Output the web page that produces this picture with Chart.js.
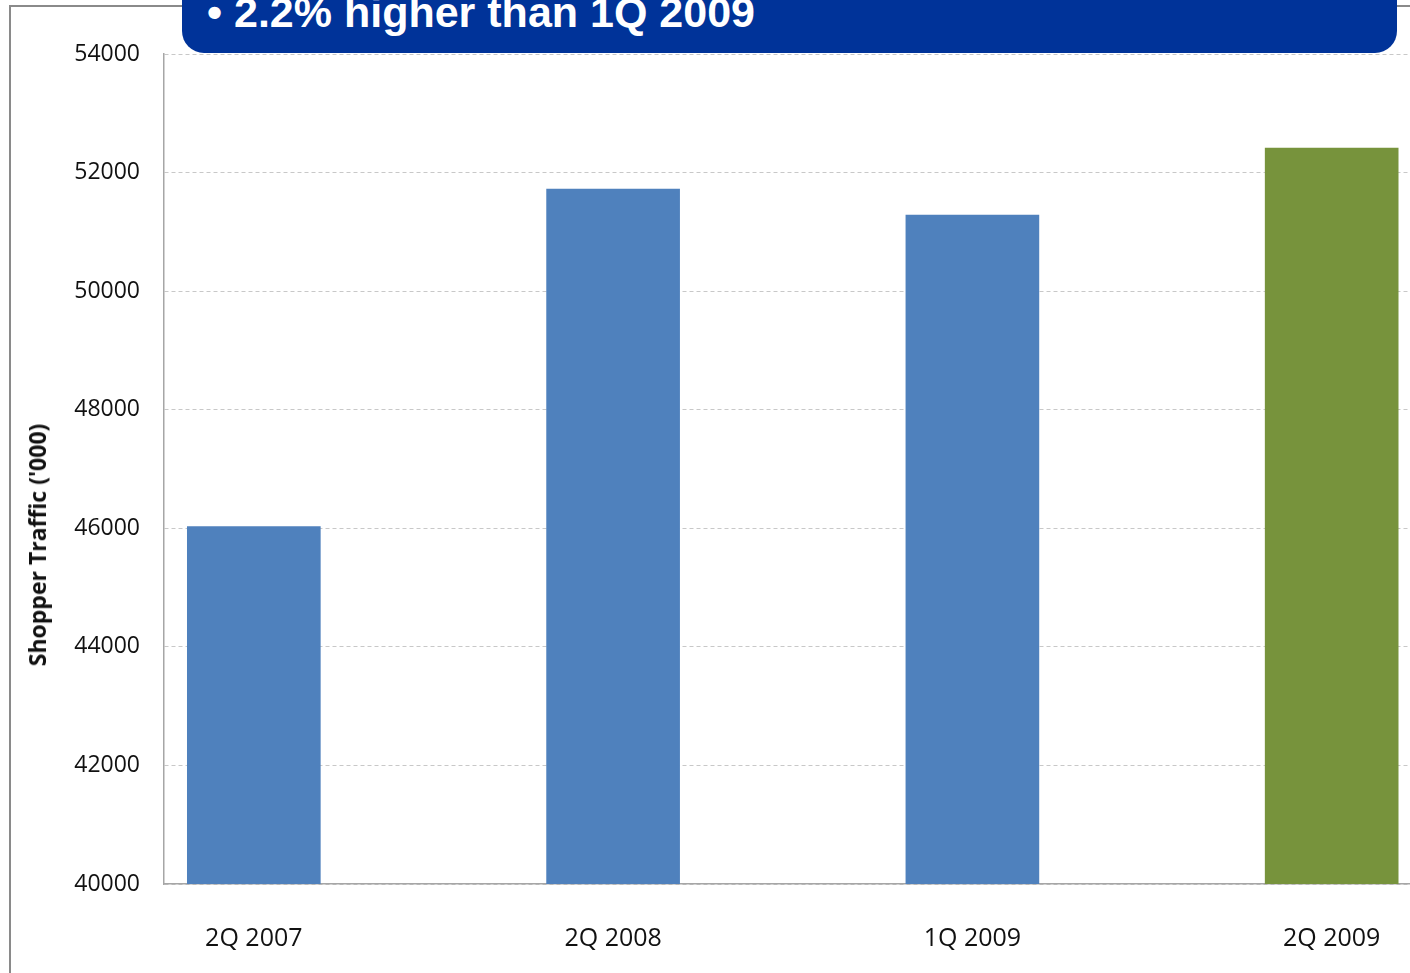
<!DOCTYPE html>
<html>
<head>
<meta charset="utf-8">
<script src="https://cdn.jsdelivr.net/npm/chart.js@4"></script>
<style>
    html, body { margin: 0; padding: 0; background: #fff; overflow: hidden; }
    #wrap { position: relative; width: 1410px; height: 973px; }
    #frame { position: absolute; left: 9px; top: 5px; width: 1500px; height: 1100px; border: 2px solid #8a8a8a; }
    #chart { position: absolute; left: 0; top: 0; }
    #banner {
        position: absolute; left: 182px; top: -30px; width: 1215px; height: 83px;
        background: #003399; border-radius: 0 0 22px 22px;
    }
    #banner span {
        position: absolute; left: 25px; top: 18px; line-height: 1; white-space: nowrap;
        font: bold 43px "Liberation Sans", Arial, sans-serif; color: #fff;
    }
    #ytitle {
        position: absolute; left: 37px; top: 545px; transform: translate(-50%, -50%) rotate(-90deg);
        white-space: nowrap; font: bold 23px "Open Sans", sans-serif; color: #111;
    }
</style>
</head>
<body>
<div id="wrap">
    <div id="frame"></div>
    <canvas id="chart" width="1410" height="973"></canvas>
    <div id="banner"><span>&bull; 2.2% higher than 1Q 2009</span></div>
    <div id="ytitle">Shopper Traffic ('000)</div>
</div>
<script>
const categories = ['2Q 2007', '2Q 2008', '1Q 2009', '2Q 2009'];
const traffic = [46030, 51720, 51285, 52415];
const yTicks = [40000, 42000, 44000, 46000, 48000, 50000, 52000, 54000];
const barColors = ['#4f81bd', '#4f81bd', '#4f81bd', '#77933c'];

const ctx = document.getElementById('chart').getContext('2d');
new Chart(ctx, {
    type: 'bar',
    data: {
        datasets: [{
            data: traffic.map((v, i) => ({ x: i, y: v })),
            backgroundColor: barColors,
            barThickness: 133,
            borderWidth: 0
        }]
    },
    options: {
        responsive: false,
        animation: false,
        layout: { padding: { top: 54, right: 0, left: 0, bottom: 0 } },
        plugins: { legend: { display: false }, tooltip: { enabled: false } },
        scales: {
            x: {
                type: 'linear',
                offset: false,
                min: -0.25,
                max: 3.218,
                afterBuildTicks: s => { s.ticks = categories.map((c, i) => ({ value: i })); },
                afterFit: s => { s.height = 89; s.paddingLeft = 0; s.paddingRight = 0; },
                grid: { display: false, drawTicks: false },
                border: { display: true, color: '#a6a6a6', width: 1.5 },
                ticks: {
                    padding: 40,
                    maxRotation: 0,
                    color: '#111',
                    font: { family: 'Open Sans', size: 25 },
                    callback: v => categories[v] ?? ''
                }
            },
            y: {
                min: 40000,
                max: 54000,
                afterBuildTicks: s => { s.ticks = yTicks.map(v => ({ value: v })); },
                afterFit: s => { s.width = 164; },
                grid: { color: '#c8c8c8', lineWidth: 1, drawTicks: false },
                border: { display: true, color: '#a6a6a6', width: 1.5, dash: [4, 3] },
                ticks: {
                    padding: 24,
                    color: '#111',
                    font: { family: 'Open Sans', size: 23 },
                    callback: v => String(v)
                }
            }
        }
    }
});
</script>
</body>
</html>
